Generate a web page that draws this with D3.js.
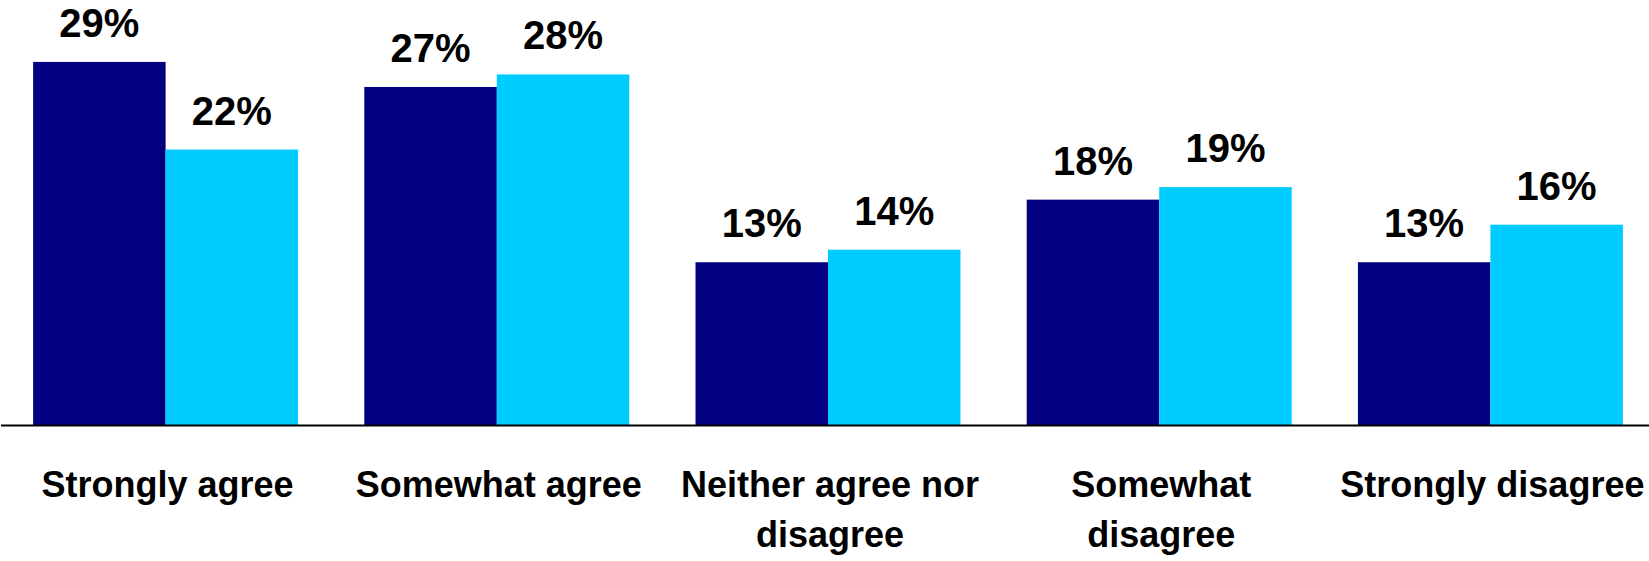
<!DOCTYPE html>
<html>
<head>
<meta charset="utf-8">
<script src="https://cdn.jsdelivr.net/npm/d3@7"></script>
<style>
  html, body { margin: 0; padding: 0; background: #fff; }
  svg { display: block; }
  text { font-family: "Liberation Sans", Arial, Helvetica, sans-serif; font-weight: bold; fill: #000; }
</style>
</head>
<body>
<svg id="chart" width="1649" height="561"></svg>
<script>
const categories = [
  ["Strongly agree"],
  ["Somewhat agree"],
  ["Neither agree nor", "disagree"],
  ["Somewhat", "disagree"],
  ["Strongly disagree"]
];
const seriesNames = ["Series A", "Series B"];
const seriesA = [29, 27, 13, 18, 13];
const seriesB = [22, 28, 14, 19, 16];
const colors = ["#000080", "#00CCFF"];

const svg = d3.select("#chart");
const W = 1649, H = 561;
const baseY = 425;

const x0 = d3.scaleBand()
  .domain(d3.range(categories.length))
  .range([0, 1656])
  .paddingInner(0.2)
  .paddingOuter(0.1);

const x1 = d3.scaleBand()
  .domain([0, 1])
  .range([0, x0.bandwidth()])
  .padding(0);

const y = d3.scaleLinear().domain([0, 30]).range([baseY, baseY - 375.6]);

const data = categories.map((c, i) => ({ i, values: [seriesA[i], seriesB[i]] }));

const groups = svg.selectAll("g.grp").data(data).enter().append("g")
  .attr("class", "grp")
  .attr("transform", d => `translate(${x0(d.i)},0)`);

groups.selectAll("rect").data(d => d.values.map((v, s) => ({ v, s }))).enter().append("rect")
  .attr("x", d => x1(d.s))
  .attr("y", d => y(d.v))
  .attr("width", x1.bandwidth())
  .attr("height", d => baseY - y(d.v))
  .attr("fill", d => colors[d.s]);

groups.selectAll("text.val").data(d => d.values.map((v, s) => ({ v, s }))).enter().append("text")
  .attr("class", "val")
  .attr("x", d => x1(d.s) + x1.bandwidth() / 2)
  .attr("y", d => y(d.v) - 25)
  .attr("text-anchor", "middle")
  .style("font-size", "40px")
  .text(d => d.v + "%");

// axis baseline
svg.append("line")
  .attr("x1", 1).attr("x2", W)
  .attr("y1", baseY + 0.5).attr("y2", baseY + 0.5)
  .attr("stroke", "#000").attr("stroke-width", 2);

// category labels
categories.forEach((lines, i) => {
  const cx = x0(i) + x0.bandwidth() / 2 + 2;
  const t = svg.append("text")
    .attr("x", cx)
    .attr("y", 497)
    .attr("text-anchor", "middle")
    .style("font-size", "36px");
  lines.forEach((ln, k) => {
    t.append("tspan")
      .attr("x", cx)
      .attr("dy", k === 0 ? 0 : 50)
      .text(ln);
  });
});
</script>
</body>
</html>
